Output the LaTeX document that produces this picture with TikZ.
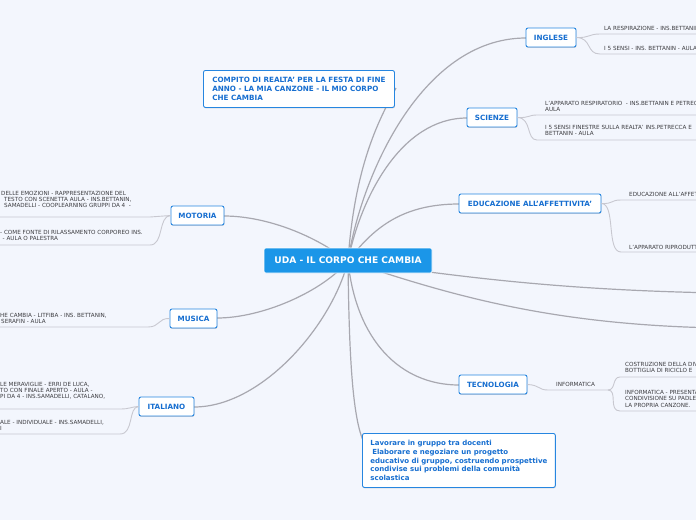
\documentclass[tikz,border=0pt]{standalone}
\usepackage{fontspec}
\setmainfont{DejaVu Sans}
\usetikzlibrary{shadows}
\definecolor{bgc}{RGB}{243,246,253}
\definecolor{bluec}{RGB}{38,134,224}
\definecolor{bluetxt}{RGB}{22,110,208}
\definecolor{centralc}{RGB}{27,150,232}
\definecolor{linec}{RGB}{168,168,176}
\definecolor{subc}{RGB}{200,200,208}
\definecolor{leaftxt}{RGB}{60,60,64}
\tikzset{
  topic/.style={draw=bluec, fill=white, rounded corners=2pt, line width=0.9pt, text=bluetxt,
    font=\fontsize{7.2}{8.6}\selectfont\bfseries, minimum height=19pt, inner xsep=2pt, inner ysep=0pt,
    drop shadow={shadow xshift=0.4pt, shadow yshift=-0.9pt, opacity=0.25, fill=black!60}},
  bigbox/.style={topic, align=left, anchor=north west, minimum width=191pt},
  central/.style={fill=centralc, draw=white, line width=0.6pt, rounded corners=2pt, text=white,
    font=\fontsize{9.1}{10}\selectfont\bfseries, minimum width=168pt, minimum height=25pt, inner sep=0pt},
  leaf/.style={font=\fontsize{5.65}{6.3}\selectfont, text=leaftxt, align=left, inner sep=0pt, anchor=north west},
  conn/.style={draw=linec, line width=1.2pt},
  sub/.style={draw=subc, line width=0.9pt},
}
\begin{document}
\begin{tikzpicture}[x=1pt,y=-1pt]
\useasboundingbox (0,0) rectangle (696,520);
\fill[bgc] (0,0) rectangle (696,520);
\clip (0,0) rectangle (696,520);

% coordinates
\coordinate (cc) at (348,261);
\coordinate (r1) at (720,293);
\coordinate (r2) at (720,328);

% main connectors
\draw[conn] (cc) .. controls (360,180) and (420,38) .. (526,38);
\draw[conn] (cc) .. controls (360,200) and (400,118) .. (467,118);
\draw[conn] (cc) .. controls (372,230) and (400,204) .. (459,204);
\draw[conn] (cc) .. controls (355,160) and (382,115) .. (396,88);
\draw[conn] (cc) .. controls (310,232) and (262,216) .. (224,216);
\draw[conn] (cc) .. controls (322,292) and (262,318) .. (217,318);
\draw[conn] (cc) .. controls (332,325) and (262,407) .. (194,407);
\draw[conn] (cc) .. controls (356,340) and (400,385) .. (459,385);
\draw[conn] (cc) .. controls (349,350) and (352,425) .. (366,446);
\draw[conn] (cc) .. controls (450,275) and (550,290) .. (r1);
\draw[conn] (cc) .. controls (450,295) and (550,325) .. (r2);

% topic nodes
\node[central] (uda) at (348,260.5) {UDA - IL CORPO CHE CAMBIA};
\node[topic, minimum width=50pt] (ing) at (551,37.5) {INGLESE};
\node[topic, minimum width=50pt] (sci) at (492,117.5) {SCIENZE};
\node[topic, minimum width=142pt] (edu) at (530,203.5) {EDUCAZIONE ALL'AFFETTIVITA'};
\node[topic, minimum width=68pt] (tec) at (493,384.5) {TECNOLOGIA};
\node[topic, minimum width=53pt] (mot) at (197.5,215.5) {MOTORIA};
\node[topic, minimum width=47pt] (mus) at (193.5,318.5) {MUSICA};
\node[topic, minimum width=55pt] (ita) at (166.5,406.5) {ITALIANO};
\node[bigbox, minimum height=37pt, inner xsep=8pt] (comp) at (203,70)
  {COMPITO DI REALTA' PER LA FESTA DI FINE\\ANNO - LA MIA CANZONE - IL MIO CORPO\\CHE CAMBIA};
\node[bigbox, minimum height=54pt, inner xsep=8pt, font=\fontsize{7.0}{8.8}\selectfont\bfseries] (lav) at (362,433)
  {Lavorare in gruppo tra docenti\\\hspace{1.8pt}Elaborare e negoziare un progetto\\educativo di gruppo, costruendo prospettive\\condivise sui problemi della comunità\\scolastica};

% leaf underline end coordinates
\coordinate (in1) at (600,34);   \coordinate (in1e) at (700,34);
\coordinate (in2) at (600,54);   \coordinate (in2e) at (700,54);
\coordinate (sc1) at (537,115);  \coordinate (sc1e) at (700,115);
\coordinate (sc2) at (537,140);  \coordinate (sc2e) at (700,140);
\coordinate (ed1) at (621,200);  \coordinate (ed1e) at (700,200);
\coordinate (ed2) at (621,252);  \coordinate (ed2e) at (700,252);
\coordinate (inf) at (548,390);  \coordinate (infe) at (608,390);
\coordinate (te1) at (620,377);  \coordinate (te1e) at (700,377);
\coordinate (te2) at (620,411);  \coordinate (te2e) at (700,411);
\coordinate (mo1) at (150,217);  \coordinate (mo1e) at (-5,217);
\coordinate (mo2) at (150,245);  \coordinate (mo2e) at (-5,245);
\coordinate (mu1) at (148,327);  \coordinate (mu1e) at (-5,327);
\coordinate (it1) at (120,409);  \coordinate (it1e) at (-5,409);
\coordinate (it2) at (120,434);  \coordinate (it2e) at (-5,434);

% sub connectors
\draw[sub] (ing.east) .. controls (590,38) and (588,34) .. (in1) -- (in1e);
\draw[sub] (ing.east) .. controls (592,38) and (586,54) .. (in2) -- (in2e);
\draw[sub] (sci.east) .. controls (530,118) and (528,115) .. (sc1) -- (sc1e);
\draw[sub] (sci.east) .. controls (532,118) and (526,140) .. (sc2) -- (sc2e);
\draw[sub] (edu.east) .. controls (614,204) and (610,200) .. (ed1) -- (ed1e);
\draw[sub] (edu.east) .. controls (616,204) and (606,252) .. (ed2) -- (ed2e);
\draw[sub] (tec.east) .. controls (540,385) and (538,390) .. (inf) -- (infe);
\draw[sub] (infe) .. controls (616,390) and (612,377) .. (te1) -- (te1e);
\draw[sub] (infe) .. controls (618,390) and (608,411) .. (te2) -- (te2e);
\draw[sub] (mot.west) .. controls (160,216) and (160,217) .. (mo1) -- (mo1e);
\draw[sub] (mot.west) .. controls (158,216) and (164,245) .. (mo2) -- (mo2e);
\draw[sub] (mus.west) .. controls (158,318) and (160,327) .. (mu1) -- (mu1e);
\draw[sub] (ita.west) .. controls (130,407) and (130,409) .. (it1) -- (it1e);
\draw[sub] (ita.west) .. controls (128,407) and (134,434) .. (it2) -- (it2e);

% leaf texts
\node[leaf] (tin1) at (604,25.6) {\strut LA RESPIRAZIONE - INS.BETTANIN - AULA};
\node[leaf] (tin2) at (604,45.6) {\strut I 5 SENSI - INS. BETTANIN - AULA};
\node[leaf] (tsc1) at (545,100.5) {\strut L'APPARATO RESPIRATORIO\ \ - INS.BETTANIN E PETRECCA -\\AULA};
\node[leaf] (tsc2) at (545,125) {\strut I 5 SENSI FINESTRE SULLA REALTA' INS.PETRECCA E\\BETTANIN - AULA};
\node[leaf] (ted1) at (629,191.6) {\strut EDUCAZIONE ALL'AFFETTIVITA'};
\node[leaf] (ted2) at (629,244.6) {\strut L'APPARATO RIPRODUTTIVO};
\node[leaf] (tinf) at (556,381.8) {\strut INFORMATICA};
\node[leaf] (tte1) at (625,362) {\strut COSTRUZIONE DELLA DIVISA CON\\BOTTIGLIA DI RICICLO E};
\node[leaf] (tte2) at (625,390) {\strut INFORMATICA - PRESENTAZIONE\\CONDIVISIONE SU PADLET\\LA PROPRIA CANZONE.};
\node[leaf] (tmo1) at (1,190.6) {\strut DELLE EMOZIONI - RAPPRESENTAZIONE DEL\\\hspace{3pt}TESTO CON SCENETTA AULA - INS.BETTANIN,\\\hspace{3pt}SAMADELLI - COOPLEARNING GRUPPI DA 4\ \ -};
\node[leaf] (tmo2) at (0,230) {\strut - COME FONTE DI RILASSAMENTO CORPOREO INS.\\\hspace{2.5pt}- AULA O PALESTRA};
\node[leaf] (tmu1) at (0,312.6) {\strut HE CAMBIA - LITFIBA - INS. BETTANIN,\\\hspace{1pt}SERAFIN - AULA};
\node[leaf] (tit1) at (0,381.6) {\strut LE MERAVIGLIE - ERRI DE LUCA,\\TO CON FINALE APERTO - AULA -\\PI DA 4 - INS.SAMADELLI, CATALANO,};
\node[leaf] (tit2) at (0,420) {\strut ALE - INDIVIDUALE - INS.SAMADELLI,\\I};
\end{tikzpicture}
\end{document}
